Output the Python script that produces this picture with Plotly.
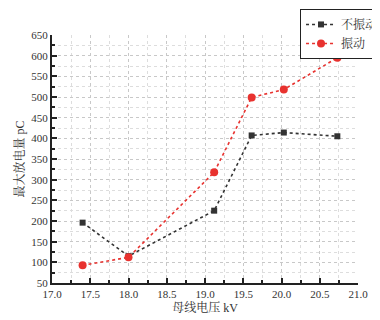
import plotly.graph_objects as go

voltage = [17.4, 18.0, 19.12, 19.61, 20.03, 20.73]
no_vib = [196, 115, 225, 407, 414, 405]
vib = [93, 112, 318, 499, 518, 595]
series_names = ["不振动", "振动"]

FONT = "Liberation Serif, 'Times New Roman', 'Noto Serif CJK SC', 'Noto Sans CJK SC', serif"

fig = go.Figure()
fig.add_trace(go.Scatter(x=voltage, y=no_vib, name=series_names[0], mode="lines+markers",
                         line=dict(color="#333333", width=1.6, dash="dot"),
                         marker=dict(symbol="square", size=6, color="#333333")))
fig.add_trace(go.Scatter(x=voltage, y=vib, name=series_names[1], mode="lines+markers",
                         line=dict(color="#e8322f", width=1.6, dash="dot"),
                         marker=dict(symbol="circle", size=8, color="#e8322f")))

axis_common = dict(showline=True, linecolor="#222222", linewidth=2, mirror=False,
                   ticks="inside", ticklen=5, tickwidth=1.5, tickcolor="#222222",
                   showgrid=True, gridcolor="#c8c8c8", griddash="dot", gridwidth=1,
                   zeroline=False, tickfont=dict(size=11, color="#333333", family=FONT))

fig.update_xaxes(range=[17.0, 21.0], dtick=0.5, tickformat=".1f",
                 minor=dict(dtick=0.25, ticks="inside", ticklen=3, tickcolor="#222222",
                            showgrid=True, gridcolor="#dddddd", griddash="dot"),
                 title=dict(text="母线电压 kV", font=dict(size=12, color="#333333", family=FONT), standoff=4),
                 **axis_common)
fig.update_yaxes(range=[50, 650], dtick=50,
                 minor=dict(dtick=25, ticks="inside", ticklen=3, tickcolor="#222222",
                            showgrid=True, gridcolor="#dddddd", griddash="dot"),
                 title=dict(text="最大放电量 pC", font=dict(size=12, color="#333333", family=FONT), standoff=4),
                 **axis_common)

fig.update_layout(width=372, height=312, margin=dict(l=44, r=22, t=27, b=37, autoexpand=False),
                  paper_bgcolor="white", plot_bgcolor="white",
                  font=dict(family=FONT, color="#333333"),
                  legend=dict(xref="container", yref="container",
                              x=0.785, xanchor="left", y=0.997, yanchor="top",
                              bordercolor="#222222", borderwidth=1, bgcolor="white",
                              font=dict(size=12, family=FONT), tracegroupgap=0,
                              itemwidth=30))
fig.write_html("out.html")
